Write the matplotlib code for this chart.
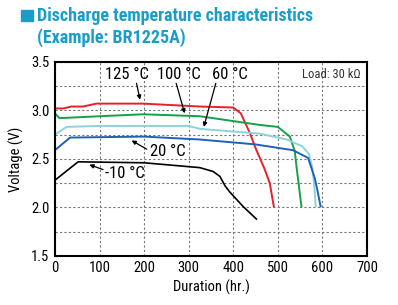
import matplotlib
matplotlib.use("Agg")
import matplotlib.pyplot as plt
from matplotlib.patches import Rectangle

# condensed face first; missing families are skipped
plt.rcParams['font.family'] = ['Roboto Condensed', 'Liberation Sans Narrow',
                               'Archivo Narrow', 'PT Sans Narrow', 'DejaVu Sans']

# discharge curves (hours, volts)
hr_125 = [0, 18, 37, 63, 93, 198, 325, 400, 417, 437, 452, 470, 482, 491]
v_125 = [3.02, 3.02, 3.04, 3.04, 3.07, 3.07, 3.04, 3.03, 2.97, 2.77, 2.59, 2.40, 2.25, 2.01]

hr_100 = [0, 10, 100, 198, 325, 460, 500, 527, 538, 542, 553]
v_100 = [2.97, 2.92, 2.94, 2.96, 2.94, 2.85, 2.83, 2.73, 2.58, 2.42, 2.01]

hr_60 = [0, 26, 100, 300, 325, 460, 520, 555, 570, 578, 582, 585]
v_60 = [2.75, 2.83, 2.84, 2.84, 2.81, 2.76, 2.70, 2.63, 2.55, 2.40, 2.20, 2.01]

hr_20 = [0, 34, 200, 325, 449, 534, 568, 583, 590, 596]
v_20 = [2.59, 2.72, 2.73, 2.70, 2.65, 2.59, 2.51, 2.30, 2.15, 2.01]

hr_m10 = [0, 52, 200, 325, 355, 370, 382, 392, 422, 452]
v_m10 = [2.28, 2.47, 2.46, 2.41, 2.37, 2.32, 2.22, 2.16, 2.01, 1.88]

x_ticks = [0, 100, 200, 300, 400, 500, 600, 700]
y_ticks = [1.5, 2.0, 2.5, 3.0, 3.5]

# label text, text centre, arrow start, arrow tip
labels = [
    ("125 °C", (161, 3.37), (183, 3.28), (191, 3.11)),
    ("100 °C", (278, 3.37), (272, 3.28), (291, 2.97)),
    ("60 °C", (393, 3.37), (361, 3.28), (334, 2.83)),
    ("20 °C", (253, 2.58), (206, 2.60), (172, 2.69)),
    ("-10 °C", (157, 2.35), (108, 2.39), (77, 2.44)),
]

title_color = "#1a9ec9"

fig = plt.figure(figsize=(3.98, 3.05), dpi=100)
ax = fig.add_axes([0.138, 0.161, 0.784, 0.636])

ax.plot(hr_125, v_125, color="#e8202a", lw=1.4)
ax.plot(hr_100, v_100, color="#16a04a", lw=1.4)
ax.plot(hr_60, v_60, color="#8ed2dc", lw=1.4)
ax.plot(hr_20, v_20, color="#1f62b5", lw=1.4)
ax.plot(hr_m10, v_m10, color="black", lw=1.2)

ax.set_xlim(0, 700)
ax.set_ylim(1.5, 3.5)
ax.set_xticks(x_ticks)
ax.set_yticks(y_ticks)
ax.set_yticklabels(["%.1f" % v for v in y_ticks])
ax.set_yticks([1.75, 2.25, 2.75, 3.25], minor=True)
ax.tick_params(which="both", length=0, labelsize=10.5, pad=4)
ax.grid(True, which="major", axis="both", ls=(0, (2, 2)), color="#777777", lw=0.8)
ax.grid(True, which="minor", axis="y", ls=(0, (2, 2)), color="#777777", lw=0.8)
for s in ax.spines.values():
    s.set_linewidth(1.5)

ax.set_xlabel("Duration (hr.)", fontsize=10.5, labelpad=3)
ax.set_ylabel("Voltage (V)", fontsize=10.5, labelpad=5)

for txt, pos, start, tip in labels:
    ax.text(pos[0], pos[1], txt, fontsize=12, ha="center", va="center")
    ax.annotate("", xy=tip, xytext=start,
                arrowprops=dict(arrowstyle="-|>", color="black", lw=0.9,
                                mutation_scale=6, shrinkA=0, shrinkB=0))

ax.text(0.98, 0.935, "Load: 30 kΩ", transform=ax.transAxes, ha="right",
        va="center", fontsize=9, color="#333333")

fig.patches.append(Rectangle((20.5 / 398, 1 - 21 / 305), 12 / 398, 11 / 305,
                             transform=fig.transFigure, color=title_color))
fig.text(37 / 398, 1 - 16 / 305, "Discharge temperature characteristics",
         fontsize=13, fontweight="bold", color=title_color, va="center")
fig.text(37 / 398, 1 - 38 / 305, "(Example: BR1225A)",
         fontsize=13, fontweight="bold", color=title_color, va="center")

fig.savefig("out.png", dpi=100)
